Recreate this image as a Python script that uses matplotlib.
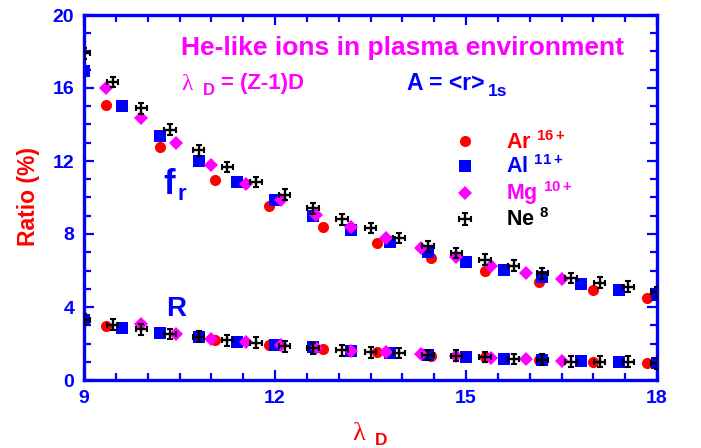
import numpy as np
import matplotlib
matplotlib.use("Agg")
import matplotlib.pyplot as plt
from matplotlib.ticker import MultipleLocator
from matplotlib.legend_handler import HandlerErrorbar
from matplotlib.container import ErrorbarContainer

plt.rcParams['font.family'] = ['Liberation Sans', 'DejaVu Sans']
plt.rcParams['mathtext.fontset'] = 'custom'
plt.rcParams['mathtext.rm'] = 'Liberation Sans'
plt.rcParams['mathtext.bf'] = 'Liberation Sans:bold'

# ---------------- data ----------------
ar_x = [9.35, 10.2, 11.05, 11.9, 12.75, 13.6, 14.45, 15.3, 16.15, 17.0, 17.85]
ar_fr = [15.07, 12.77, 10.96, 9.53, 8.38, 7.51, 6.66, 5.97, 5.37, 4.93, 4.49]
ar_R = [2.97, 2.58, 2.19, 1.92, 1.70, 1.53, 1.32, 1.26, 1.10, 0.99, 0.93]

al_x = [9.0, 9.6, 10.2, 10.8, 11.4, 12.0, 12.6, 13.2, 13.8, 14.4, 15.0, 15.6,
        16.2, 16.8, 17.4, 18.0]
al_fr = [16.95, 15.01, 13.37, 12.0, 10.85, 9.86, 8.99, 8.22, 7.56, 7.01, 6.47,
         6.03, 5.64, 5.26, 4.93, 4.66]
al_R = [3.29, 2.85, 2.58, 2.36, 2.08, 1.92, 1.81, 1.59, 1.48, 1.37, 1.26, 1.15,
        1.10, 1.04, 0.99, 0.93]

mg_x = [9.35, 9.9, 10.45, 11.0, 11.55, 12.1, 12.65, 13.2, 13.75, 14.3, 14.85,
        15.4, 15.95, 16.5]
mg_fr = [16.0, 14.36, 12.99, 11.78, 10.74, 9.86, 9.04, 8.38, 7.78, 7.23, 6.74,
         6.25, 5.86, 5.53]
mg_R = [np.nan, 3.07, 2.52, 2.25, 2.08, 1.92, 1.75, 1.59, 1.53, 1.42, 1.32,
        1.21, 1.15, 1.04]

ne_x = [9.0, 9.45, 9.9, 10.35, 10.8, 11.25, 11.7, 12.15, 12.6, 13.05, 13.5,
        13.95, 14.4, 14.85, 15.3, 15.75, 16.2, 16.65, 17.1, 17.55, 18.0]
ne_fr = [17.9, 16.33, 14.9, 13.7, 12.6, 11.67, 10.85, 10.14, 9.42, 8.82, 8.33,
         7.78, 7.34, 6.96, 6.58, 6.25, 5.86, 5.59, 5.32, 5.10, 4.82]
ne_R = [3.29, 3.03, 2.79, 2.52, 2.36, 2.19, 2.03, 1.86, 1.75, 1.64, 1.53, 1.48,
        1.37, 1.32, 1.26, 1.15, 1.10, 0.99, 0.99, 0.99, 0.93]
ne_xerr = 0.09
ne_yerr = 0.3

legend_names = ['Ar', 'Al', 'Mg', 'Ne']
legend_sups = ['16+', '11+', '10+', '8']

xticks = [9, 12, 15, 18]
yticks = [0, 4, 8, 12, 16, 20]

RED, BLUE, MAG, BLK = '#FF0000', '#0000FF', '#FF00FF', '#000000'

# ---------------- figure ----------------
W, H = 701, 448
fig = plt.figure(figsize=(W / 100, H / 100), dpi=100)
ax = fig.add_axes([84 / W, 1 - 380 / H, (657 - 84) / W, (380 - 15) / H])


def P(px, py):
    return px / W, 1 - py / H


h_ar, = ax.plot(ar_x, ar_fr, 'o', color=RED, ms=8, mew=0, zorder=3)
ax.plot(ar_x, ar_R, 'o', color=RED, ms=8, mew=0, zorder=3)
h_al, = ax.plot(al_x, al_fr, 's', color=BLUE, ms=8, mew=0, zorder=4)
ax.plot(al_x, al_R, 's', color=BLUE, ms=8, mew=0, zorder=4)
h_mg, = ax.plot(mg_x, mg_fr, 'D', color=MAG, ms=7.3, mew=0, zorder=5)
ax.plot(mg_x, mg_R, 'D', color=MAG, ms=7.3, mew=0, zorder=5)
eb_kw = dict(fmt='none', ecolor=BLK, elinewidth=1.7, capsize=2.0,
             capthick=1.5, zorder=6)
h_ne = ax.errorbar(ne_x, ne_fr, xerr=ne_xerr, yerr=ne_yerr, **eb_kw)
ax.errorbar(ne_x, ne_R, xerr=ne_xerr, yerr=ne_yerr, **eb_kw)

ax.set_xlim(9, 18)
ax.set_ylim(0, 20)
ax.set_xticks(xticks)
ax.set_yticks(yticks)
ax.xaxis.set_minor_locator(MultipleLocator(0.5))
ax.yaxis.set_minor_locator(MultipleLocator(1))
ax.tick_params(which='both', direction='in', top=True, right=True,
               color=BLUE, width=1.6)
ax.tick_params(which='major', length=7.5, pad=7, labelsize=14,
               labelcolor=BLUE)
ax.tick_params(which='minor', length=4.8)
for lab in ax.get_xticklabels() + ax.get_yticklabels():
    lab.set_fontweight('bold')
for sp in ax.spines.values():
    sp.set_color(BLUE)
    sp.set_linewidth(2.4)

# y label
fig.text(*P(28, 197), 'Ratio (%)', color=RED, fontsize=16.5,
         fontweight='bold', rotation=90, ha='center', va='center')

# x label  lambda_D
fig.text(*P(352, 440), '\u03bb', color=RED, fontsize=19,
         family='Liberation Serif', ha='left', va='baseline')
fig.text(*P(375, 445), 'D', color=RED, fontsize=12.5, fontweight='bold',
         ha='left', va='baseline')

# annotations
fig.text(*P(181, 55), 'He-like ions in plasma environment', color=MAG,
         fontsize=19, fontweight='bold', ha='left', va='baseline')
fig.text(*P(181, 90), '\u03bb', color=MAG, fontsize=17,
         family='Liberation Serif', ha='left', va='baseline')
fig.text(*P(203, 95), 'D', color=MAG, fontsize=12, fontweight='bold',
         ha='left', va='baseline')
fig.text(*P(221, 89), '= (Z-1)D', color=MAG, fontsize=16,
         fontweight='bold', ha='left', va='baseline')
fig.text(*P(407, 90), 'A = <r>', color=BLUE, fontsize=16.5,
         fontweight='bold', ha='left', va='baseline')
fig.text(*P(488, 96), '1s', color=BLUE, fontsize=12.5,
         fontweight='bold', ha='left', va='baseline')
fig.text(*P(163, 194), 'f', color=BLUE, fontsize=25,
         fontweight='bold', ha='left', va='baseline')
fig.text(*P(177, 200), 'r', color=BLUE, fontsize=16,
         fontweight='bold', ha='left', va='baseline')
fig.text(*P(166, 316), 'R', color=BLUE, fontsize=20,
         fontweight='bold', ha='left', va='baseline')

# legend
labels = [r'%s $\mathbf{^{%s}}$' % (n, s) for n, s in zip(legend_names, legend_sups)]
leg = ax.legend([h_ar, h_al, h_mg, h_ne], labels, loc='upper left',
                bbox_to_anchor=P(458.5, 131), bbox_transform=fig.transFigure,
                frameon=False, borderpad=0, borderaxespad=0,
                handlelength=0.6, handletextpad=1.6, labelspacing=0.06,
                prop={'weight': 'bold', 'size': 15.5},
                handler_map={ErrorbarContainer:
                             HandlerErrorbar(xerr_size=0.27, yerr_size=0.27)})
for t, c in zip(leg.get_texts(), [RED, BLUE, MAG, BLK]):
    t.set_color(c)

fig.savefig('out.png', dpi=100)
